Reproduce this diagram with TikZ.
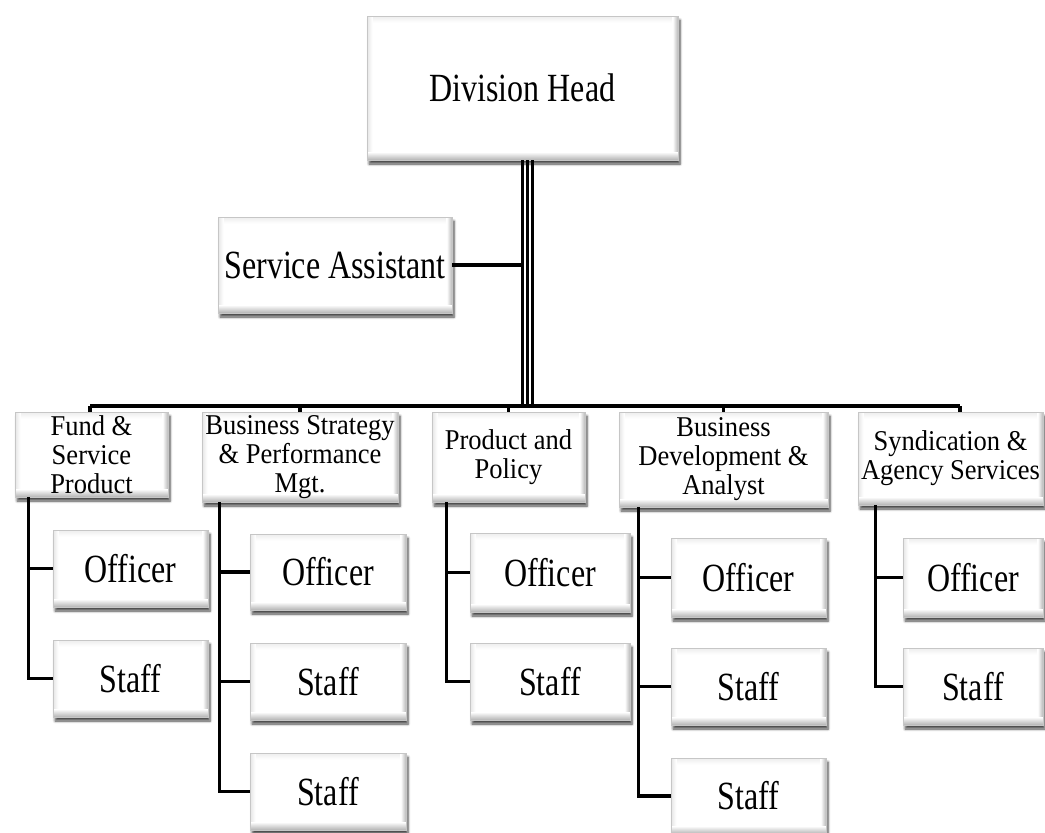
\documentclass[tikz,border=0pt]{standalone}
\usepackage{fontspec}
\setmainfont{Liberation Serif}[FakeStretch=0.8]
\newfontfamily\midfont{Liberation Serif}[FakeStretch=0.925]
\usetikzlibrary{shadows.blur}
\tikzset{
  box/.style={draw=gray!45, line width=0.5pt, fill=white, inner sep=0pt, align=center,
    blur shadow={shadow xshift=1.5pt, shadow yshift=-3pt, shadow blur steps=6, shadow opacity=70},
    path picture={
      \coordinate (pSW) at (path picture bounding box.south west);
      \coordinate (pNE) at (path picture bounding box.north east);
      \coordinate (pNW) at (path picture bounding box.north west);
      \coordinate (pSE) at (path picture bounding box.south east);
      \shade[top color=gray!14, bottom color=white] (pNW) rectangle ([yshift=-5pt]pNE);
      \shade[left color=gray!20, right color=white] (pSW) rectangle ([xshift=4pt]pNW);
      \shade[left color=white, right color=gray!55] ([xshift=-4pt]pSE) rectangle (pNE);
      \shade[top color=white, bottom color=gray!60] (pSW) rectangle ([yshift=6pt]pSE);
    }},
  big/.style={font=\fontsize{30pt}{30pt}\selectfont},
  mid/.style={font=\midfont\fontsize{21.5pt}{21.8pt}\selectfont},
  conn/.style={line width=2.3pt, line join=miter},
  tri/.style={line width=1.9pt},
}
\newcommand\bx[7][]{\node[box,#1, minimum width={(#5-#3)*0.75pt}, minimum height={(#6-#4)*0.75pt}] (#2) at ({(#3+#5)/2},{(#4+#6)/2}) {#7};}
\begin{document}
\begin{tikzpicture}[x=0.75pt, y=-0.75pt]
\useasboundingbox (0,0) rectangle (1045,832);

% top level
\bx[big]{DH}{367}{16}{678}{160}{Division Head}
\bx[big]{SA}{218}{217}{452}{313}{Service Assistant}

% second level
\bx[mid]{F}{15}{412}{168}{497}{Fund \&\\Service\\Product}
\bx[mid]{BS}{202}{412}{398}{502}{Business Strategy\\\& Performance\\Mgt.}
\bx[mid]{PP}{432}{412}{585}{502}{Product and\\Policy}
\bx[mid]{BD}{619}{412}{828}{507}{Business\\Development \&\\Analyst}
\bx[mid]{SY}{858}{412}{1043}{505}{Syndication \&\\Agency Services}

% third level
\bx[big]{FO}{53}{530}{208}{607}{Officer}
\bx[big]{FS}{53}{640}{208}{717}{Staff}
\bx[big]{BSO}{250}{534}{406}{610}{Officer}
\bx[big]{BSA}{250}{643}{406}{720}{Staff}
\bx[big]{BSB}{250}{753}{406}{830}{Staff}
\bx[big]{PPO}{470}{533}{630}{612}{Officer}
\bx[big]{PPS}{470}{643}{630}{720}{Staff}
\bx[big]{BDO}{671}{538}{826}{617}{Officer}
\bx[big]{BDA}{671}{648}{826}{725}{Staff}
\bx[big]{BDB}{671}{758}{826}{834}{Staff}
\bx[big]{SYO}{903}{538}{1043}{617}{Officer}
\bx[big]{SYS}{903}{648}{1043}{725}{Staff}

% connectors: head to bar
\coordinate (barL) at (90,406);
\coordinate (barR) at (960,406);
\path (DH.south |- barL) coordinate (dhb);
\foreach \s in {0pt,3.75pt,7.5pt}
  \draw[tri] ([xshift=\s]DH.south) -- ([xshift=\s]dhb);
\draw[conn] (SA.east) -- (SA.east -| DH.south);
\draw[conn] (barL) -- (barR);
\draw[conn] (barL) -- (barL |- F.north);
\draw[conn] (BS.north) -- (BS.north |- barL);
\draw[conn] (PP.north) -- (PP.north |- barL);
\draw[conn] (BD.north) -- (BD.north |- barL);
\draw[conn] (barR) -- (barR |- SY.north);

% connectors: second to third level
\draw[conn] ([xshift=10.5pt]F.south west) |- (FO.west);
\draw[conn] ([xshift=10.5pt]F.south west) |- (FS.west);
\draw[conn] ([xshift=13.5pt]BS.south west) |- (BSO.west);
\draw[conn] ([xshift=13.5pt]BS.south west) |- (BSA.west);
\draw[conn] ([xshift=13.5pt]BS.south west) |- (BSB.west);
\draw[conn] ([xshift=11.25pt]PP.south west) |- (PPO.west);
\draw[conn] ([xshift=11.25pt]PP.south west) |- (PPS.west);
\draw[conn] ([xshift=15pt]BD.south west) |- (BDO.west);
\draw[conn] ([xshift=15pt]BD.south west) |- (BDA.west);
\draw[conn] ([xshift=15pt]BD.south west) |- (BDB.west);
\draw[conn] ([xshift=13.5pt]SY.south west) |- (SYO.west);
\draw[conn] ([xshift=13.5pt]SY.south west) |- (SYS.west);
\end{tikzpicture}
\end{document}
